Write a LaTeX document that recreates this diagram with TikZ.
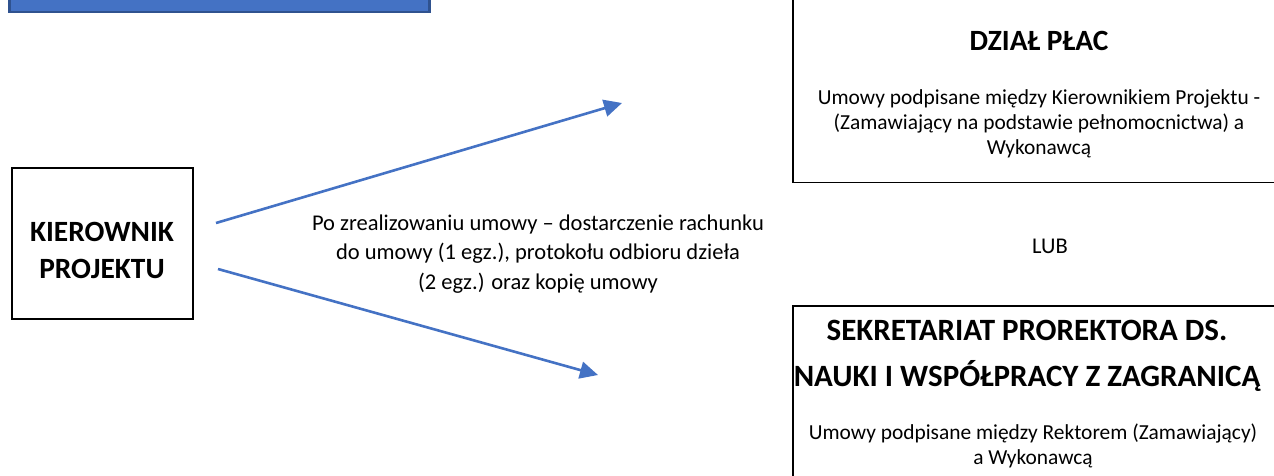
\documentclass[tikz,border=0pt]{standalone}
\usepackage{fontspec}
\setmainfont{Carlito}
\usetikzlibrary{arrows.meta}
\definecolor{arrowblue}{HTML}{4472C4}
\definecolor{darkblue}{HTML}{2F528F}
\begin{document}
\begin{tikzpicture}[x=1pt,y=-1pt,
  bodytext/.style={font=\fontsize{21.4}{25}\selectfont, anchor=base, inner sep=0pt},
  midtext/.style={font=\fontsize{22.5}{29}\selectfont, anchor=base, inner sep=0pt},
  headtext/.style={font=\fontsize{29.4}{35}\selectfont\bfseries, anchor=base, inner sep=0pt},
  bighead/.style={font=\fontsize{31}{38}\selectfont\bfseries, anchor=base, inner sep=0pt},
  framebox/.style={draw=black, line width=1.5pt, inner sep=0pt},
  flow/.style={draw=arrowblue, line width=2.6pt, -{Triangle[length=18pt,width=17pt]}}]
\useasboundingbox (0,0) rectangle (1274,475);
\clip (0,0) rectangle (1274,475);
% cut-off blue bar at top left
\node[fill=arrowblue, draw=darkblue, line width=2.5pt, inner sep=0pt,
      minimum width=420pt, minimum height=60pt, anchor=south west] (bar) at (8,13) {};
% KIEROWNIK PROJEKTU
\node[framebox, line width=1.8pt, minimum width=181pt, minimum height=151pt] (kier) at (102.5,243.5) {};
\node[headtext] (k1) at (102,241.5) {KIEROWNIK};
\node[headtext] (k2) at (102,278) {PROJEKTU};
% DZIAL PLAC box
\node[framebox, minimum width=520pt, minimum height=220pt, anchor=south west] (dzial) at (792,183) {};
\node[headtext] (d1) at (1039,50.5) {DZIAŁ PŁAC};
\node[bodytext] (d2) at (1039,104) {Umowy podpisane między Kierownikiem Projektu -};
\node[bodytext] (d3) at (1039,129) {(Zamawiający na podstawie pełnomocnictwa) a};
\node[bodytext] (d4) at (1039,154) {Wykonawcą};
% LUB
\node[midtext] (lub) at (1050,253) {LUB};
% SEKRETARIAT box
\node[framebox, minimum width=520pt, minimum height=220pt, anchor=north west] (sekr) at (792,305) {};
\node[bighead] (s1) at (1027,340) {SEKRETARIAT PROREKTORA DS.};
\node[bighead] (s2) at (1027,386.5) {NAUKI I WSPÓŁPRACY Z ZAGRANICĄ};
\node[bodytext] (s3) at (1033,439) {Umowy podpisane między Rektorem (Zamawiający)};
\node[bodytext] (s4) at (1033,464) {a Wykonawcą};
% middle label
\node[midtext] (m1) at (538,230) {Po zrealizowaniu umowy – dostarczenie rachunku};
\node[midtext] (m2) at (538,259.5) {do umowy (1 egz.), protokołu odbioru dzieła};
\node[midtext] (m3) at (538,289) {(2 egz.) oraz kopię umowy};
% arrows
\coordinate (up-start) at (216,223);
\coordinate (up-end) at (622,103);
\coordinate (lo-start) at (218,269);
\coordinate (lo-end) at (598,375);
\draw[flow] (up-start) -- (up-end);
\draw[flow] (lo-start) -- (lo-end);
\end{tikzpicture}
\end{document}
